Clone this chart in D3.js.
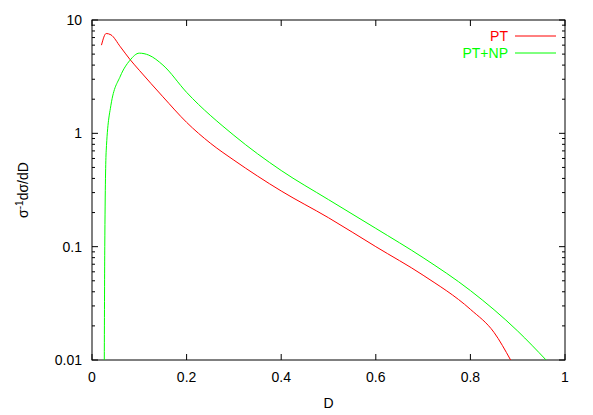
<!DOCTYPE html>
<html><head><meta charset="utf-8">
<script src="https://cdn.jsdelivr.net/npm/d3@7"></script>
<style>body{margin:0;background:#fff}text{font-family:"Liberation Sans",Arial,sans-serif;font-size:14px}</style>
</head><body><svg id="c" width="593" height="415"></svg>
<script>
const xTicks = [0, 0.2, 0.4, 0.6, 0.8, 1];
const yTicks = [0.01, 0.1, 1, 10];
const yTickLabels = ["0.01", "0.1", "1", "10"];
const ptX = [0.02, 0.03, 0.04, 0.06, 0.08, 0.1, 0.15, 0.2, 0.25, 0.3, 0.4, 0.5, 0.6, 0.7, 0.8, 0.85, 0.885];
const ptY = [6.0, 7.6, 7.4, 5.8, 4.5, 3.6, 2.1, 1.25, 0.82, 0.58, 0.31, 0.18, 0.1, 0.056, 0.028, 0.0175, 0.01];
const npX = [0.026, 0.027, 0.03, 0.04, 0.06, 0.08, 0.1, 0.12, 0.15, 0.2, 0.3, 0.4, 0.5, 0.6, 0.7, 0.8, 0.9, 0.96];
const npY = [0.01, 0.1, 0.7, 1.77, 3.2, 4.4, 5.1, 4.9, 4.0, 2.3, 0.96, 0.47, 0.26, 0.145, 0.08, 0.041, 0.018, 0.01];

const m = {left: 92, right: 565, top: 20, bottom: 360};
const svg = d3.select('#c');
const x = d3.scaleLinear([0, 1], [m.left, m.right]);
const y = d3.scaleLog([0.01, 10], [m.bottom, m.top]);

/* frame + inward ticks */
svg.append('rect').attr('x', m.left).attr('y', m.top)
  .attr('width', m.right - m.left).attr('height', m.bottom - m.top)
  .attr('fill', 'none').attr('stroke', '#000');
xTicks.forEach(t => {
  svg.append('line').attr('x1', x(t)).attr('x2', x(t)).attr('y1', m.bottom).attr('y2', m.bottom - 6).attr('stroke', '#000');
  svg.append('line').attr('x1', x(t)).attr('x2', x(t)).attr('y1', m.top).attr('y2', m.top + 6).attr('stroke', '#000');
  svg.append('text').attr('x', x(t)).attr('y', m.bottom + 22).attr('text-anchor', 'middle').text(t);
});
yTicks.forEach((t, i) => {
  svg.append('line').attr('x1', m.left).attr('x2', m.left + 6).attr('y1', y(t)).attr('y2', y(t)).attr('stroke', '#000');
  svg.append('line').attr('x1', m.right).attr('x2', m.right - 6).attr('y1', y(t)).attr('y2', y(t)).attr('stroke', '#000');
  svg.append('text').attr('x', m.left - 10).attr('y', y(t) + 5).attr('text-anchor', 'end').text(yTickLabels[i]);
  if (t < 10) for (let k = 2; k < 10; k++) {
    const v = t * k;
    svg.append('line').attr('x1', m.left).attr('x2', m.left + 3).attr('y1', y(v)).attr('y2', y(v)).attr('stroke', '#000');
    svg.append('line').attr('x1', m.right).attr('x2', m.right - 3).attr('y1', y(v)).attr('y2', y(v)).attr('stroke', '#000');
  }
});

svg.append('text').attr('x', (m.left + m.right) / 2).attr('y', 408).attr('text-anchor', 'middle').text('D');
svg.append('text').attr('transform', 'translate(28,190) rotate(-90)').attr('text-anchor', 'middle')
  .html('σ<tspan dy="-5" font-size="10">-1</tspan><tspan dy="5">dσ/dD</tspan>');

const line = d3.line().x(d => x(d[0])).y(d => y(d[1])).curve(d3.curveMonotoneX);
svg.append('path').attr('d', line(d3.zip(ptX, ptY))).attr('fill', 'none').attr('stroke', '#ff0000');
svg.append('path').attr('d', line(d3.zip(npX, npY))).attr('fill', 'none').attr('stroke', '#00ff00');

/* legend */
[['PT', '#ff0000', 36], ['PT+NP', '#00ff00', 53]].forEach(([n, c, ly]) => {
  svg.append('text').attr('x', 508).attr('y', ly + 5).attr('text-anchor', 'end').attr('fill', c).text(n);
  svg.append('line').attr('x1', 515).attr('x2', 556).attr('y1', ly).attr('y2', ly).attr('stroke', c);
});
</script></body></html>
